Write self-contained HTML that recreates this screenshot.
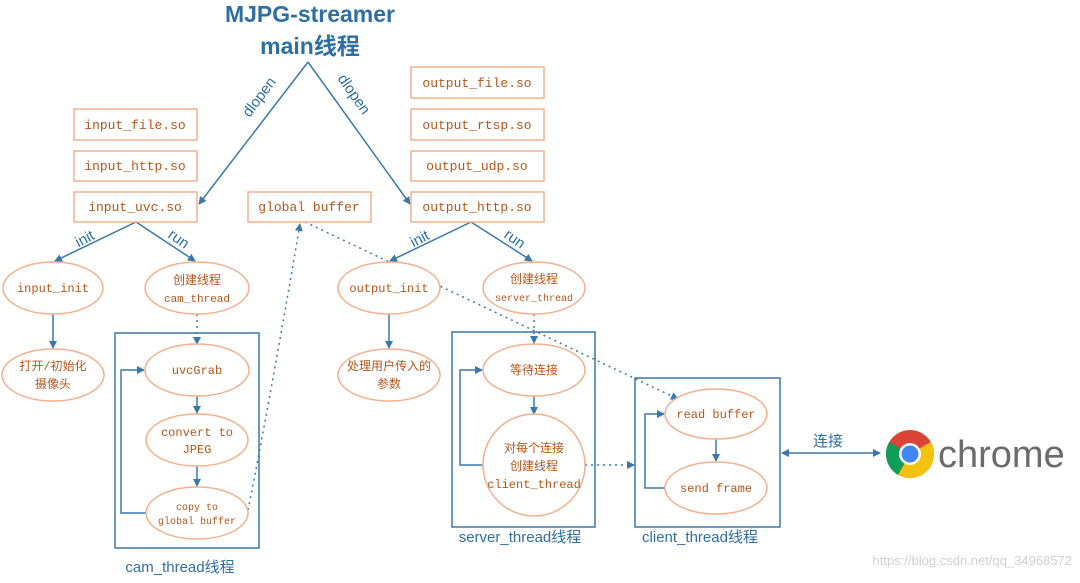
<!DOCTYPE html>
<html><head><meta charset="utf-8"><style>
body{margin:0;background:#fff;width:1080px;height:578px;overflow:hidden}
</style></head><body>
<svg width="1080" height="578" xmlns="http://www.w3.org/2000/svg">
<defs>
<marker id="a" markerWidth="8" markerHeight="8" refX="7" refY="4" orient="auto" markerUnits="userSpaceOnUse"><path d="M0,0 L8,4 L0,8 z" fill="#3a78a8"/></marker>
<marker id="b" markerWidth="8" markerHeight="8" refX="1" refY="4" orient="auto" markerUnits="userSpaceOnUse"><path d="M8,0 L0,4 L8,8 z" fill="#3a78a8"/></marker>
</defs>
<g font-family="Liberation Sans, Noto Sans CJK SC, sans-serif" font-weight="bold" fill="#2e6fa3" text-anchor="middle" font-size="23">
<text x="310" y="22">MJPG-streamer</text>
<text x="310" y="54">main线程</text>
</g>
<g stroke="#3a78a8" stroke-width="1.5" fill="none">
<path d="M308,62 L199,204" marker-end="url(#a)"/>
<path d="M308,62 L410,204" marker-end="url(#a)"/>
<path d="M136,222 L55,261" marker-end="url(#a)"/>
<path d="M136,222 L195,261" marker-end="url(#a)"/>
<path d="M471,222 L390,261" marker-end="url(#a)"/>
<path d="M471,222 L532,261" marker-end="url(#a)"/>
<path d="M53,314 L53,348" marker-end="url(#a)"/>
<path d="M389,314 L389,348" marker-end="url(#a)"/>
<path d="M197,396 L197,413" marker-end="url(#a)"/>
<path d="M197,466 L197,486" marker-end="url(#a)"/>
<path d="M146,513 L121,513 L121,370 L144,370" marker-end="url(#a)"/>
<path d="M534,396 L534,414" marker-end="url(#a)"/>
<path d="M483,465 L460,465 L460,370 L482,370" marker-end="url(#a)"/>
<path d="M716,439 L716,461" marker-end="url(#a)"/>
<path d="M665,488 L645,488 L645,414 L664,414" marker-end="url(#a)"/>
<path d="M782,453 L880,453" marker-end="url(#a)" marker-start="url(#b)"/>
<rect x="115" y="333" width="144" height="215"/>
<rect x="452" y="332" width="143" height="195"/>
<rect x="635" y="378" width="145" height="149"/>
</g>
<g stroke="#3a78a8" stroke-width="1.5" fill="none" stroke-dasharray="2,4">
<path d="M197,314 L197,344" marker-end="url(#a)"/>
<path d="M534,314 L534,343" marker-end="url(#a)"/>
<path d="M248,510 Q270,400 300,224" marker-end="url(#a)"/>
<path d="M305,222 L678,399" marker-end="url(#a)"/>
<path d="M585,465 L634,465" marker-end="url(#a)"/>
</g>
<g font-family="Liberation Sans, sans-serif" fill="#2e6fa3" font-size="15" text-anchor="middle">
<text transform="translate(263,100) rotate(-53)">dlopen</text>
<text transform="translate(350,97) rotate(55)">dlopen</text>
<text transform="translate(87,243) rotate(-28)">init</text>
<text transform="translate(176,243) rotate(35)">run</text>
<text transform="translate(422,243) rotate(-28)">init</text>
<text transform="translate(512,243) rotate(35)">run</text>
</g>
<g fill="#fff" stroke="#f2b08e" stroke-width="1.5">
<rect x="74" y="109" width="123" height="31"/>
<rect x="74" y="151" width="123" height="30"/>
<rect x="74" y="192" width="123" height="30"/>
<rect x="248" y="192" width="123" height="30"/>
<rect x="411" y="67" width="133" height="31"/>
<rect x="411" y="109" width="133" height="31"/>
<rect x="411" y="151" width="133" height="30"/>
<rect x="411" y="192" width="133" height="30"/>
<ellipse cx="53" cy="288" rx="50" ry="26"/>
<ellipse cx="197" cy="288" rx="52" ry="26"/>
<ellipse cx="53" cy="375" rx="51" ry="26"/>
<ellipse cx="197" cy="370" rx="52" ry="26"/>
<ellipse cx="197" cy="440" rx="51" ry="26"/>
<ellipse cx="197" cy="513" rx="51" ry="26"/>
<ellipse cx="389" cy="288" rx="51" ry="26"/>
<ellipse cx="534" cy="288" rx="51" ry="26"/>
<ellipse cx="389" cy="375" rx="51" ry="26"/>
<ellipse cx="534" cy="370" rx="51" ry="26"/>
<ellipse cx="534" cy="465" rx="51" ry="51"/>
<ellipse cx="716" cy="414" rx="51" ry="25"/>
<ellipse cx="716" cy="488" rx="51" ry="26"/>
</g>
<g font-family="Liberation Mono, Noto Sans CJK SC, monospace" fill="#b4561a" font-size="13" text-anchor="middle">
<text x="135" y="129">input_file.so</text>
<text x="135" y="170">input_http.so</text>
<text x="135" y="211">input_uvc.so</text>
<text x="309" y="211">global buffer</text>
<text x="477" y="87">output_file.so</text>
<text x="477" y="129">output_rtsp.so</text>
<text x="477" y="170">output_udp.so</text>
<text x="477" y="211">output_http.so</text>
<text x="53" y="292" font-size="12">input_init</text>
<text x="197" y="284" font-size="12">创建线程</text>
<text x="197" y="302" font-size="11">cam_thread</text>
<text x="53" y="370" font-size="12">打开/初始化</text>
<text x="53" y="388" font-size="12">摄像头</text>
<text x="197" y="374" font-size="12">uvcGrab</text>
<text x="197" y="436" font-size="12">convert to</text>
<text x="197" y="453" font-size="12">JPEG</text>
<text x="197" y="510" font-size="10">copy to</text>
<text x="197" y="524" font-size="10">global buffer</text>
<text x="389" y="292" font-size="12">output_init</text>
<text x="534" y="283" font-size="12">创建线程</text>
<text x="534" y="301" font-size="10">server_thread</text>
<text x="389" y="370" font-size="12">处理用户传入的</text>
<text x="389" y="388" font-size="12">参数</text>
<text x="534" y="374" font-size="12">等待连接</text>
<text x="534" y="452" font-size="12">对每个连接</text>
<text x="534" y="470" font-size="12">创建线程</text>
<text x="534" y="488" font-size="12">client_thread</text>
<text x="716" y="418" font-size="12">read buffer</text>
<text x="716" y="492" font-size="12">send frame</text>
</g>
<g font-family="Liberation Sans, Noto Sans CJK SC, sans-serif" fill="#2e6fa3" font-size="15" text-anchor="middle">
<text x="180" y="572">cam_thread线程</text>
<text x="520" y="542">server_thread线程</text>
<text x="700" y="542">client_thread线程</text>
<text x="828" y="446">连接</text>
</g>
<g>
<circle cx="910" cy="454" r="24" fill="#db4437"/>
<path d="M910,454 L930.8,442 A24,24 0 0,1 898,474.8 Z" fill="#f4c20d"/>
<path d="M910,454 L898,474.8 A24,24 0 0,1 889.2,442 Z" fill="#0f9d58"/>
<circle cx="910" cy="454" r="11" fill="#fff"/>
<circle cx="910" cy="454" r="8.5" fill="#4285f4"/>
<text x="938" y="467" font-family="Liberation Sans, sans-serif" font-size="38" fill="#6b6b6b">chrome</text>
</g>
<text x="1072" y="565" text-anchor="end" font-family="Liberation Sans, sans-serif" font-size="13" fill="#d0d0d0">https://blog.csdn.net/qq_34968572</text>
</svg>
</body></html>
